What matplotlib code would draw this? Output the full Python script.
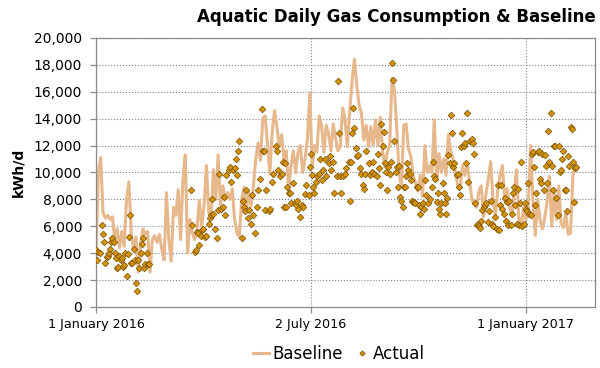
import numpy as np
import matplotlib
matplotlib.use("Agg")
import matplotlib.pyplot as plt
from matplotlib.ticker import FuncFormatter, MultipleLocator

# start of the series, baseline is read every 2 days
START = np.datetime64("2016-01-01")
BASELINE_STEP = 2

baseline_kwh = [
    4000, 10000, 11100, 7000, 6600, 6800, 6500, 6700, 5000, 5800,
    4400, 5600, 4500, 8000, 9300, 5500, 4200, 5200, 2600, 4800,
    5800, 5400, 5600, 2600, 5000, 5300, 4800, 5400, 4300, 3500,
    8500, 5000, 3400, 7400, 6800, 8700, 5000, 9500, 11300, 4000,
    6500, 5500, 5000, 5800, 7900, 6000, 7500, 10500, 7000, 6800,
    10200, 8000, 11300, 7500, 9000, 8000, 8500, 8000, 8800, 6500,
    5500, 5200, 8000, 8900, 7200, 8500, 7500, 9000, 11000, 12200,
    10900, 14000, 14200, 12000, 9900, 13000, 14600, 13400, 11900, 12800,
    11000, 11600, 8700, 10500, 11600, 10000, 11500, 12000, 10000, 11000,
    12500, 15900, 10400, 12000, 11500, 14200, 13500, 11500, 13500, 12900,
    11600, 13600, 12500, 11600, 12000, 14800, 13900, 11900, 14500, 16800,
    18400, 16500, 15000, 14400, 12400, 13500, 11900, 13400, 12000, 13900,
    12000, 14100, 11600, 10400, 11500, 12000, 17000, 16200, 13400, 10000,
    9000, 13500, 13600, 11800, 11200, 9800, 9200, 8600, 9800, 8200,
    12000, 10000, 10500, 10000, 13900, 9400, 11400, 10000, 11000, 9800,
    12800, 11600, 11000, 10000, 9000, 8800, 10500, 9800, 10600, 9400,
    8000, 7600, 7400, 8600, 9000, 6700, 8400, 9500, 10800, 7900,
    6800, 8700, 9800, 10500, 7900, 8800, 7500, 6800, 8500, 10200,
    6500, 6000, 7400, 6500, 7400, 12000, 7900, 5300, 8000, 6500,
    5800, 6600, 7800, 9700, 6000, 8500, 6500, 9000, 6200, 5900,
    7000, 5400, 5500, 9700, 10500,
]

# actual readings: day offset from START, kWh/d
actual_day = [
    0, 1, 2, 3, 5, 6, 7, 8, 9, 10, 11, 12, 13, 14, 15, 16, 17, 18, 19, 20,
    21, 22, 23, 24, 25, 26, 27, 28, 29, 30, 31, 32, 33, 34, 35, 36, 37, 38, 39, 40,
    41, 42, 43, 44, 45,
    81, 82, 84, 85, 86, 87, 88, 89, 90, 91, 93, 94, 96, 97, 98, 99, 100, 101, 103, 104,
    105, 106, 108, 109, 110, 111, 113, 114, 115, 117, 118, 119, 120, 121, 122, 124, 125, 126, 127, 128,
    129, 130, 132, 133, 134, 135, 137, 138, 140, 141, 142, 143, 144, 145, 147, 148, 150, 151, 153, 154,
    155, 157, 158, 159, 160,
    161, 162, 163, 164, 165, 166, 168, 169, 170, 171, 172, 174, 175, 176, 178, 179, 181, 182, 183, 184,
    185, 186, 187, 188, 190, 191, 192, 193, 195, 196, 198, 199, 200, 202, 203, 205, 206, 207, 208, 209,
    210, 212, 213, 215, 216, 217, 218, 219, 220, 221, 222, 223, 225, 226, 227, 228, 229, 230, 232, 233,
    235, 236, 237, 239, 240, 241, 242,
    243, 244, 245, 246, 247, 248, 249, 250, 251, 252, 253, 254, 255, 256, 257, 258, 259, 260, 261, 262,
    263, 264, 265, 266, 267, 268, 269, 270, 271, 272, 273, 274, 275, 276, 277, 278, 279, 280, 281, 283,
    284, 286, 287, 288, 289, 290, 291, 292, 293, 294, 295, 296, 297, 298, 299, 300, 301, 302, 303, 304,
    305, 307, 308, 309, 310, 311, 312, 313, 314, 315, 316, 317, 318, 320, 321, 322,
    323, 324, 325, 326, 327, 328, 329, 330, 331, 332, 334, 335, 336, 337, 338, 340, 341, 342, 343, 344,
    345, 346, 347, 348, 349, 350, 351, 352, 353, 354, 355, 356, 357, 358, 359, 360, 361, 362, 363, 364,
    365, 366, 367, 368, 369, 370, 371, 372, 373, 374, 375, 376, 377, 378, 379, 380, 381, 382, 383, 384,
    385, 386, 387, 388, 389, 390, 391, 392, 393, 394, 395, 396, 397, 398, 399, 400, 401, 402, 403, 404,
    405, 406, 407, 408, 409,
]
actual_kwh = [
    4200, 3500, 4100, 4000, 6100, 5400, 4800, 3300, 3700, 3800, 4000, 4300, 4800, 5100, 4800, 4000, 3600, 2900, 3000, 3800,
    3500, 3600, 3000, 3100, 4000, 2300, 3900, 5200, 6800, 3300, 3300, 4300, 3500, 1800, 1200, 3500, 2900, 4000, 4700, 5100,
    2900, 3200, 4000, 3200, 3200,
    8700, 6100, 4100, 4200, 5600, 5500, 4600, 5300, 5700, 5800, 5200, 5300, 6200, 6600, 6800, 8000, 6900, 5800, 5100, 7200,
    9900, 7300, 7400, 8200, 6800, 9800, 10200, 10400, 9300, 10200, 10300, 11000, 9800, 11600, 12300, 5100, 7900, 7400, 7100, 8700,
    6600, 7200, 6200, 8300, 6800, 5500, 7400, 8700, 9500, 14700, 11600, 11600, 7200, 8700, 7100, 7300, 9300, 9900, 12000, 11600,
    10200, 9700, 9900, 10800, 7400,
    10700, 7400, 8900, 8500, 8500, 7700, 9200, 7700, 7600, 7900, 7300, 6700, 7600, 7400, 8400, 9100, 8300, 10400, 11400, 9800,
    8900, 8500, 9300, 9700, 9900, 11000, 9400, 10200, 11000, 9700, 10700, 11200, 10200, 10800, 8500, 9700, 16800, 12900, 9700, 8500,
    9700, 9900, 10300, 10800, 7900, 10800, 12900, 14800, 13300, 11800, 11200, 11300, 10300, 9900, 9100, 8800, 9900, 11600, 10700, 9800,
    10000, 10800, 9900, 9700, 11400, 10300, 9100,
    13600, 12000, 13000, 10700, 10000, 8700, 10400, 9900, 10800, 18100, 16900, 12300, 10000, 10400, 8900, 10500, 8200, 7900, 7400, 8900,
    8900, 9700, 10700, 10200, 9900, 9400, 7900, 7800, 7800, 7700, 8900, 8900, 7600, 6900, 7400, 7700, 7300, 9400, 8300, 7700,
    8000, 8900, 10800, 9700, 9500, 7800, 8500, 7300, 6900, 7700, 9200, 8500, 7700, 6900, 8100, 11300, 10700, 14300, 12900, 10400,
    10700, 9800, 9900, 8900, 8300, 11900, 12900, 12000, 12200, 10700, 14400, 9300, 12300, 12500, 12200, 11400,
    7700, 6100, 6200, 6000, 5900, 6400, 7200, 7400, 7600, 7700, 6300, 7100, 7900, 6200, 6000, 6700, 5800, 9100, 5700, 7600,
    9100, 7300, 6900, 8100, 6400, 7800, 6100, 7900, 6100, 6900, 8500, 8900, 7600, 6200, 8800, 6100, 7700, 10800, 6000, 6200,
    7700, 7300, 7100, 9200, 6900, 6800, 11400, 11500, 10400, 7600, 8500, 11500, 11600, 9500, 9200, 11400, 8700, 11300, 10500, 9200,
    13100, 10800, 14400, 10500, 8700, 12000, 12000, 8100, 6800, 12000, 10000, 10200, 11000, 11600, 8700, 8700, 7100, 11200, 10500, 13400,
    13200, 10800, 7800, 10300, 10400,
]

x_ticks = ["2016-01-01", "2016-07-02", "2017-01-01"]
x_tick_labels = ["1 January 2016", "2 July 2016", "1 January 2017"]
x_range = ["2016-01-01", "2017-03-01"]

baseline_dates = START + np.arange(len(baseline_kwh)) * BASELINE_STEP
actual_dates = START + np.array(actual_day)

fig = plt.figure(figsize=(6, 3.68), dpi=100)
ax = fig.add_axes([0.16, 0.166, 0.832, 0.731])

ax.plot(baseline_dates, baseline_kwh, color="#E6B88C", lw=2.2, label="Baseline", zorder=2)
ax.plot(actual_dates, actual_kwh, ls="none", marker="D", ms=3.4,
        mfc="#D4920C", mec="#7A5000", mew=0.5, label="Actual", zorder=3)

ax.set_xlim(np.datetime64(x_range[0]), np.datetime64(x_range[1]))
ax.set_xticks([np.datetime64(d) for d in x_ticks])
ax.set_xticklabels(x_tick_labels)
ax.set_ylim(0, 20000)
ax.yaxis.set_major_locator(MultipleLocator(2000))
ax.yaxis.set_major_formatter(FuncFormatter(lambda v, p: f"{int(v):,}"))

ax.grid(True, ls=":", color="#7f7f7f", lw=0.8, zorder=0)
ax.set_axisbelow(True)
for s in ax.spines.values():
    s.set_color("#8a8a8a")
    s.set_linewidth(0.9)
ax.tick_params(axis="both", colors="#8a8a8a", labelcolor="black", length=4, width=0.9)
ax.tick_params(axis="y", labelsize=10, pad=6)
ax.tick_params(axis="x", labelsize=9.2, pad=4)

ax.set_ylabel("kWh/d", fontsize=10, fontweight="bold", labelpad=6)
fig.text(0.66, 0.955, "Aquatic Daily Gas Consumption & Baseline",
         ha="center", va="center", fontsize=12, fontweight="bold")

fig.legend(loc="center", bbox_to_anchor=(0.565, 0.038), ncol=2, frameon=False,
           fontsize=12, handlelength=1.0, handletextpad=0.2, columnspacing=0.6,
           markerscale=0.8)

fig.savefig("out.png", dpi=100)
